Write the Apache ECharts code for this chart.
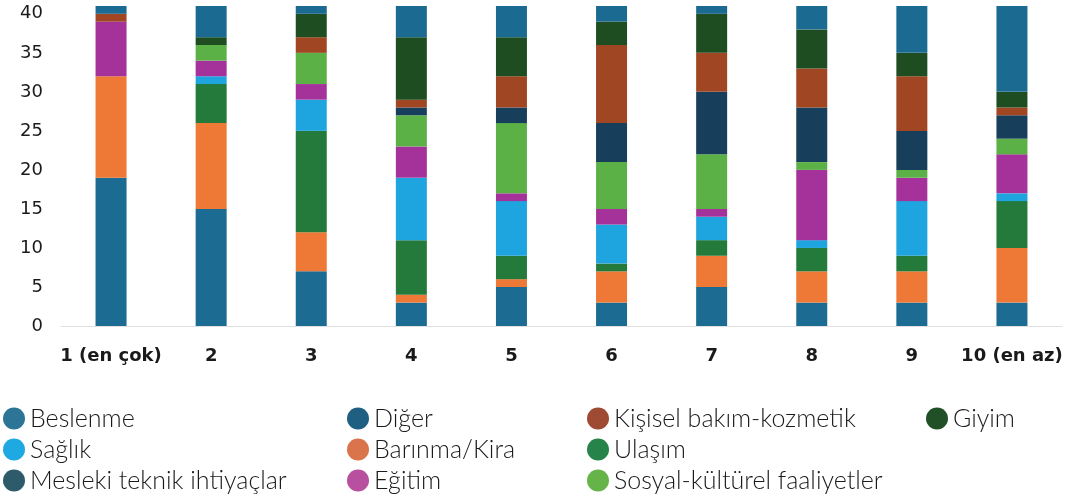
<!DOCTYPE html>
<html>
<head>
<meta charset="utf-8">
<script src="https://cdn.jsdelivr.net/npm/echarts@6/dist/echarts.min.js"></script>
<style>
html,body{margin:0;padding:0;background:#fff;}
#chart{width:1085px;height:499px;}
</style>
</head>
<body>
<div id="chart"></div>
<script>
const categories = ['1 (en çok)', '2', '3', '4', '5', '6', '7', '8', '9', '10 (en az)'];
const yTicks = [0, 5, 10, 15, 20, 25, 30, 35, 40];

// Stack order from bottom to top
const beslenme = [19, 15, 7, 3, 5, 3, 5, 3, 3, 3];
const barinma  = [13, 11, 5, 1, 1, 4, 4, 4, 4, 7];
const ulasim   = [0, 5, 13, 7, 3, 1, 2, 3, 2, 6];
const saglik   = [0, 1, 4, 8, 7, 5, 3, 1, 7, 1];
const egitim   = [7, 2, 2, 4, 1, 2, 1, 9, 3, 5];
const sosyal   = [0, 2, 4, 4, 9, 6, 7, 1, 1, 2];
const mesleki  = [0, 0, 0, 1, 2, 5, 8, 7, 5, 3];
const kisisel  = [1, 0, 2, 1, 4, 10, 5, 5, 7, 1];
const giyim    = [0, 1, 3, 8, 5, 3, 5, 5, 3, 2];
const diger    = [1, 4, 1, 4, 4, 2, 1, 3, 6, 11];

const seriesDefs = [
  {name: 'Beslenme', data: beslenme, color: '#1c6b92', legend: '#2c7596'},
  {name: 'Barınma/Kira', data: barinma, color: '#ee7835', legend: '#d9744b'},
  {name: 'Ulaşım', data: ulasim, color: '#237a3a', legend: '#26844a'},
  {name: 'Sağlık', data: saglik, color: '#1ea4de', legend: '#1fa9e2'},
  {name: 'Eğitim', data: egitim, color: '#a5329a', legend: '#b84f9f'},
  {name: 'Sosyal-kültürel faaliyetler', data: sosyal, color: '#5bb146', legend: '#66b449'},
  {name: 'Mesleki teknik ihtiyaçlar', data: mesleki, color: '#173f5c', legend: '#2d5b6a'},
  {name: 'Kişisel bakım-kozmetik', data: kisisel, color: '#a04622', legend: '#9f4a32'},
  {name: 'Giyim', data: giyim, color: '#1e4d22', legend: '#215026'},
  {name: 'Diğer', data: diger, color: '#1b6a91', legend: '#1f5f82'}
];

const legendColumns = [
  ['Beslenme', 'Sağlık', 'Mesleki teknik ihtiyaçlar'],
  ['Diğer', 'Barınma/Kira', 'Eğitim'],
  ['Kişisel bakım-kozmetik', 'Ulaşım', 'Sosyal-kültürel faaliyetler'],
  ['Giyim']
];
const legendLefts = [3, 347, 587, 926];

const legendColor = {};
seriesDefs.forEach(s => legendColor[s.name] = s.legend);

const chart = echarts.init(document.getElementById('chart'), null, {renderer: 'canvas'});
chart.setOption({
  animation: false,
  backgroundColor: '#ffffff',
  grid: {left: 61, right: 23, top: 6, bottom: 173, containLabel: false},
  legend: legendColumns.map((col, i) => ({
    orient: 'vertical',
    left: legendLefts[i],
    top: 406,
    height: 140,
    padding: 0,
    itemWidth: 22,
    itemHeight: 22,
    itemGap: 6,
    icon: 'circle',
    selectedMode: false,
    textStyle: {fontFamily: 'Lato', fontWeight: 300, fontSize: 25, color: '#1a1a1a', lineHeight: 22},
    data: col.map(n => ({name: n, itemStyle: {color: legendColor[n]}}))
  })),
  xAxis: {
    type: 'category',
    data: categories,
    axisLine: {lineStyle: {color: '#e0e0e0', width: 1}},
    axisTick: {show: false},
    axisLabel: {fontFamily: 'DejaVu Sans', fontWeight: 'bold', fontSize: 18, color: '#1a1a1a', margin: 21, interval: 0}
  },
  yAxis: {
    type: 'value',
    min: 0,
    max: 41,
    interval: 5,
    axisLine: {show: false},
    axisTick: {show: false},
    splitLine: {show: false},
    axisLabel: {
      fontFamily: 'DejaVu Sans', fontSize: 18, color: '#1a1a1a', margin: 18,
      formatter: v => yTicks.indexOf(v) >= 0 ? String(v) : ''
    }
  },
  series: seriesDefs.map(s => ({
    name: s.name,
    type: 'bar',
    stack: 'total',
    barWidth: 31,
    data: s.data,
    itemStyle: {color: s.color},
    emphasis: {disabled: true}
  }))
});
</script>
</body>
</html>
